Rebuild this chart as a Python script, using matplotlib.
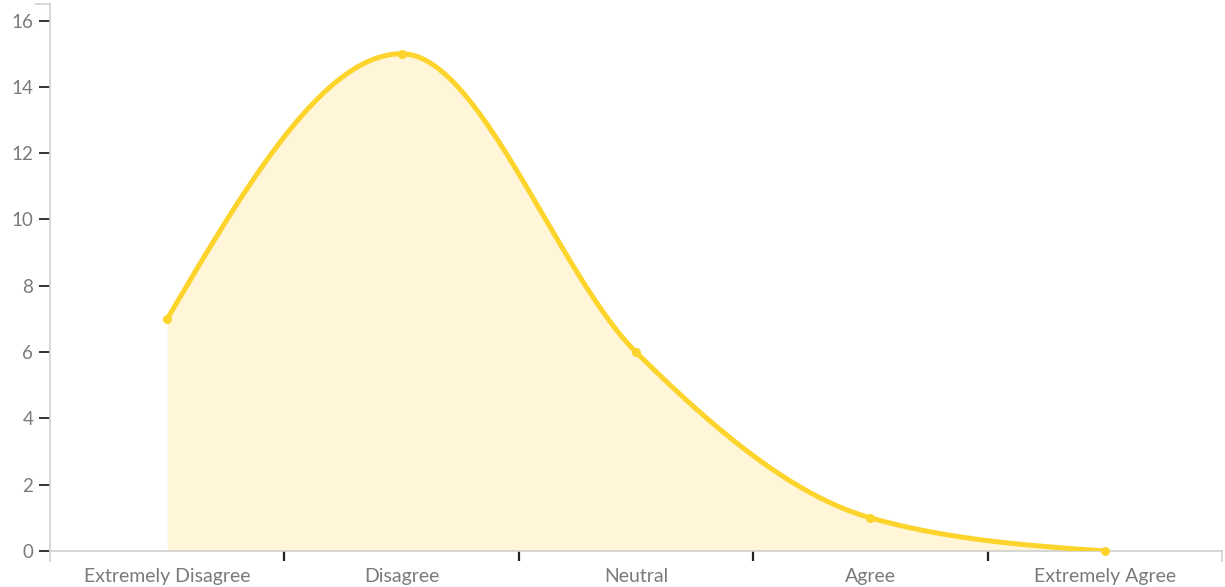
import numpy as np
import matplotlib.pyplot as plt

categories = ["Extremely Disagree", "Disagree", "Neutral", "Agree", "Extremely Agree"]
counts = [7, 15, 6, 1, 0]
y_ticks = [0, 2, 4, 6, 8, 10, 12, 14, 16]

LINE = "#fdd42c"
FILL = "#fff5d8"
TICK_TXT = "#7a7a7a"
SPINE = "#cfcfcf"


def monotone_curve(x, y, n=60):
    # monotone cubic hermite, same slopes as d3.curveMonotoneX
    x = np.asarray(x, float)
    y = np.asarray(y, float)
    k = len(x)
    t = np.zeros(k)
    for i in range(1, k - 1):
        h0, h1 = x[i] - x[i - 1], x[i + 1] - x[i]
        s0, s1 = (y[i] - y[i - 1]) / h0, (y[i + 1] - y[i]) / h1
        p = (s0 * h1 + s1 * h0) / (h0 + h1)
        t[i] = (np.sign(s0) + np.sign(s1)) * min(abs(s0), abs(s1), 0.5 * abs(p))
    t[0] = (3 * (y[1] - y[0]) / (x[1] - x[0]) - t[1]) / 2
    t[-1] = (3 * (y[-1] - y[-2]) / (x[-1] - x[-2]) - t[-2]) / 2
    xs, ys = [], []
    for i in range(k - 1):
        h = x[i + 1] - x[i]
        u = np.linspace(0, 1, n)
        h00 = 2 * u**3 - 3 * u**2 + 1
        h10 = u**3 - 2 * u**2 + u
        h01 = -2 * u**3 + 3 * u**2
        h11 = u**3 - u**2
        xs.append(x[i] + u * h)
        ys.append(h00 * y[i] + h10 * h * t[i] + h01 * y[i + 1] + h11 * h * t[i + 1])
    return np.concatenate(xs), np.concatenate(ys)


plt.rcParams['font.family'] = ['Lato', 'DejaVu Sans']

fig = plt.figure(figsize=(12.25, 5.87), dpi=100)
ax = fig.add_axes([50 / 1225, 1 - 551 / 587, 1172 / 1225, 547 / 587])

xpos = np.arange(len(categories))
cx, cy = monotone_curve(xpos, counts)
ax.fill_between(cx, 0, cy, color=FILL, lw=0, zorder=1)
ax.plot(cx, cy, color=LINE, lw=3.6, solid_capstyle='round', zorder=3)
ax.scatter(xpos, counts, s=30, color=LINE, zorder=4, clip_on=False)

ax.set_xlim(-0.5, len(categories) - 0.5)
ax.set_ylim(0, 16.5)

for side in ['top', 'right']:
    ax.spines[side].set_visible(False)
for side in ['left', 'bottom']:
    ax.spines[side].set_color(SPINE)
    ax.spines[side].set_linewidth(1.2)

ax.set_yticks(y_ticks)
ax.set_yticklabels([str(v) for v in y_ticks])
ax.tick_params(axis='y', length=8, width=1.3, color='#222222', labelcolor=TICK_TXT,
               labelsize=13.5, pad=4)

# band ticks between categories, labels centred under each band
ax.set_xticks(xpos[:-1] + 0.5)
ax.set_xticklabels([])
ax.set_xticks(xpos, minor=True)
ax.set_xticklabels(categories, minor=True)
ax.tick_params(axis='x', which='major', length=7, width=1.6, color='#222222')
ax.tick_params(axis='x', which='minor', length=0, labelcolor=TICK_TXT, labelsize=14, pad=12)

# outer end ticks of the axis domains
ax.plot([-0.012, 0], [1.0, 1.0], transform=ax.transAxes, color=SPINE, lw=1.2, clip_on=False)
ax.plot([0, 0], [0, -0.018], transform=ax.transAxes, color=SPINE, lw=1.2, clip_on=False)
ax.plot([1, 1], [0, -0.018], transform=ax.transAxes, color=SPINE, lw=1.2, clip_on=False)

fig.savefig("out.png", dpi=100)
